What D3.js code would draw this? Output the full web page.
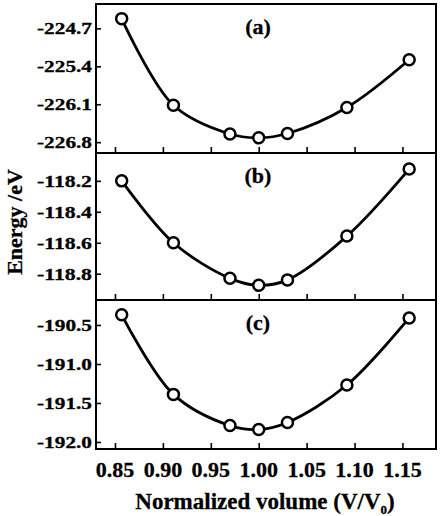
<!DOCTYPE html>
<html><head><meta charset="utf-8">
<script src="https://cdn.jsdelivr.net/npm/d3@7"></script>
<style>html,body{margin:0;padding:0;background:#fff;}svg{display:block;}</style>
</head><body>
<svg id="c" width="440" height="516"></svg>
<script>
const volume = [0.857, 0.911, 0.970, 1.000, 1.030, 1.092, 1.157];
const energyA = [-224.52, -226.12, -226.65, -226.72, -226.64, -226.16, -225.28];
const energyB = [-118.20, -118.60, -118.83, -118.875, -118.84, -118.557, -118.124];
const energyC = [-190.37, -191.39, -191.79, -191.84, -191.75, -191.27, -190.41];
const xTicks = [0.85, 0.90, 0.95, 1.00, 1.05, 1.10, 1.15];
const ticksA = [-224.7, -225.4, -226.1, -226.8];
const ticksB = [-118.2, -118.4, -118.6, -118.8];
const ticksC = [-190.5, -191.0, -191.5, -192.0];
const panelLabels = ["(a)", "(b)", "(c)"];

const font = "'Liberation Serif','Times New Roman',serif";
const svg = d3.select("#c");
const L = 96, R = 436;
const x = d3.scaleLinear().domain([0.8302, 1.185]).range([L, R]);

const panels = [
  {data: energyA, ticks: ticksA, dom: [-227.0, -224.25], top: 4, bot: 153},
  {data: energyB, ticks: ticksB, dom: [-118.97, -118.02], top: 153, bot: 300},
  {data: energyC, ticks: ticksC, dom: [-192.09, -190.18], top: 300, bot: 449}
];

panels.forEach((p, i) => {
  const y = d3.scaleLinear().domain(p.dom).range([p.bot, p.top]);
  const g = svg.append("g");
  g.append("rect").attr("x", L).attr("y", p.top).attr("width", R - L).attr("height", p.bot - p.top)
    .attr("fill", "none").attr("stroke", "#000").attr("stroke-width", 2);
  const xa = g.append("g").attr("transform", `translate(0,${p.bot})`)
    .call(d3.axisTop(x).tickValues(xTicks).tickSize(6).tickFormat(""));
  xa.select(".domain").remove();
  xa.selectAll("line").attr("stroke-width", 1.6);
  const ya = g.append("g").attr("transform", `translate(${L},0)`)
    .call(d3.axisRight(y).tickValues(p.ticks).tickSize(5).tickFormat(""));
  ya.select(".domain").remove();
  ya.selectAll("line").attr("stroke-width", 1.6);
  g.selectAll("text.yl").data(p.ticks).enter().append("text")
    .attr("x", 92).attr("y", d => y(d) + 6)
    .attr("text-anchor", "end")
    .attr("font-family", font).attr("font-weight", "bold").attr("font-size", 17)
    .attr("stroke", "#000").attr("stroke-width", 0.3)
    .attr("textLength", 55).attr("lengthAdjust", "spacingAndGlyphs")
    .text(d => d.toFixed(1));
  const pts = volume.map((v, k) => [x(v), y(p.data[k])]);
  g.append("path").attr("d", d3.line().curve(d3.curveCatmullRom.alpha(0.5))(pts))
    .attr("fill", "none").attr("stroke", "#000").attr("stroke-width", 2.8);
  g.selectAll("circle").data(pts).enter().append("circle")
    .attr("cx", d => d[0]).attr("cy", d => d[1]).attr("r", 5.5)
    .attr("fill", "#fff").attr("stroke", "#000").attr("stroke-width", 2.5);
  g.append("text").attr("x", 258).attr("y", p.top + 30)
    .attr("text-anchor", "middle")
    .attr("font-family", font).attr("font-weight", "bold").attr("font-size", 22)
    .attr("stroke", "#000").attr("stroke-width", 0.3)
    .text(panelLabels[i]);
});

svg.selectAll("text.xl").data(xTicks).enter().append("text")
  .attr("x", d => x(d)).attr("y", 477)
  .attr("text-anchor", "middle")
  .attr("font-family", font).attr("font-weight", "bold").attr("font-size", 22)
  .attr("stroke", "#000").attr("stroke-width", 0.3)
  .text(d => d.toFixed(2));

const xt = svg.append("text").attr("x", 265).attr("y", 509)
  .attr("text-anchor", "middle")
  .attr("font-family", font).attr("font-weight", "bold").attr("font-size", 23)
  .attr("stroke", "#000").attr("stroke-width", 0.3);
xt.append("tspan").text("Normalized volume (V/V");
xt.append("tspan").attr("font-size", 13).attr("dy", 5).text("0");
xt.append("tspan").attr("dy", -5).text(")");

svg.append("text").attr("transform", "translate(22,222) rotate(-90)")
  .attr("text-anchor", "middle")
  .attr("font-family", font).attr("font-weight", "bold").attr("font-size", 22)
  .attr("stroke", "#000").attr("stroke-width", 0.3)
  .text("Energy /eV");
</script>
</body></html>
